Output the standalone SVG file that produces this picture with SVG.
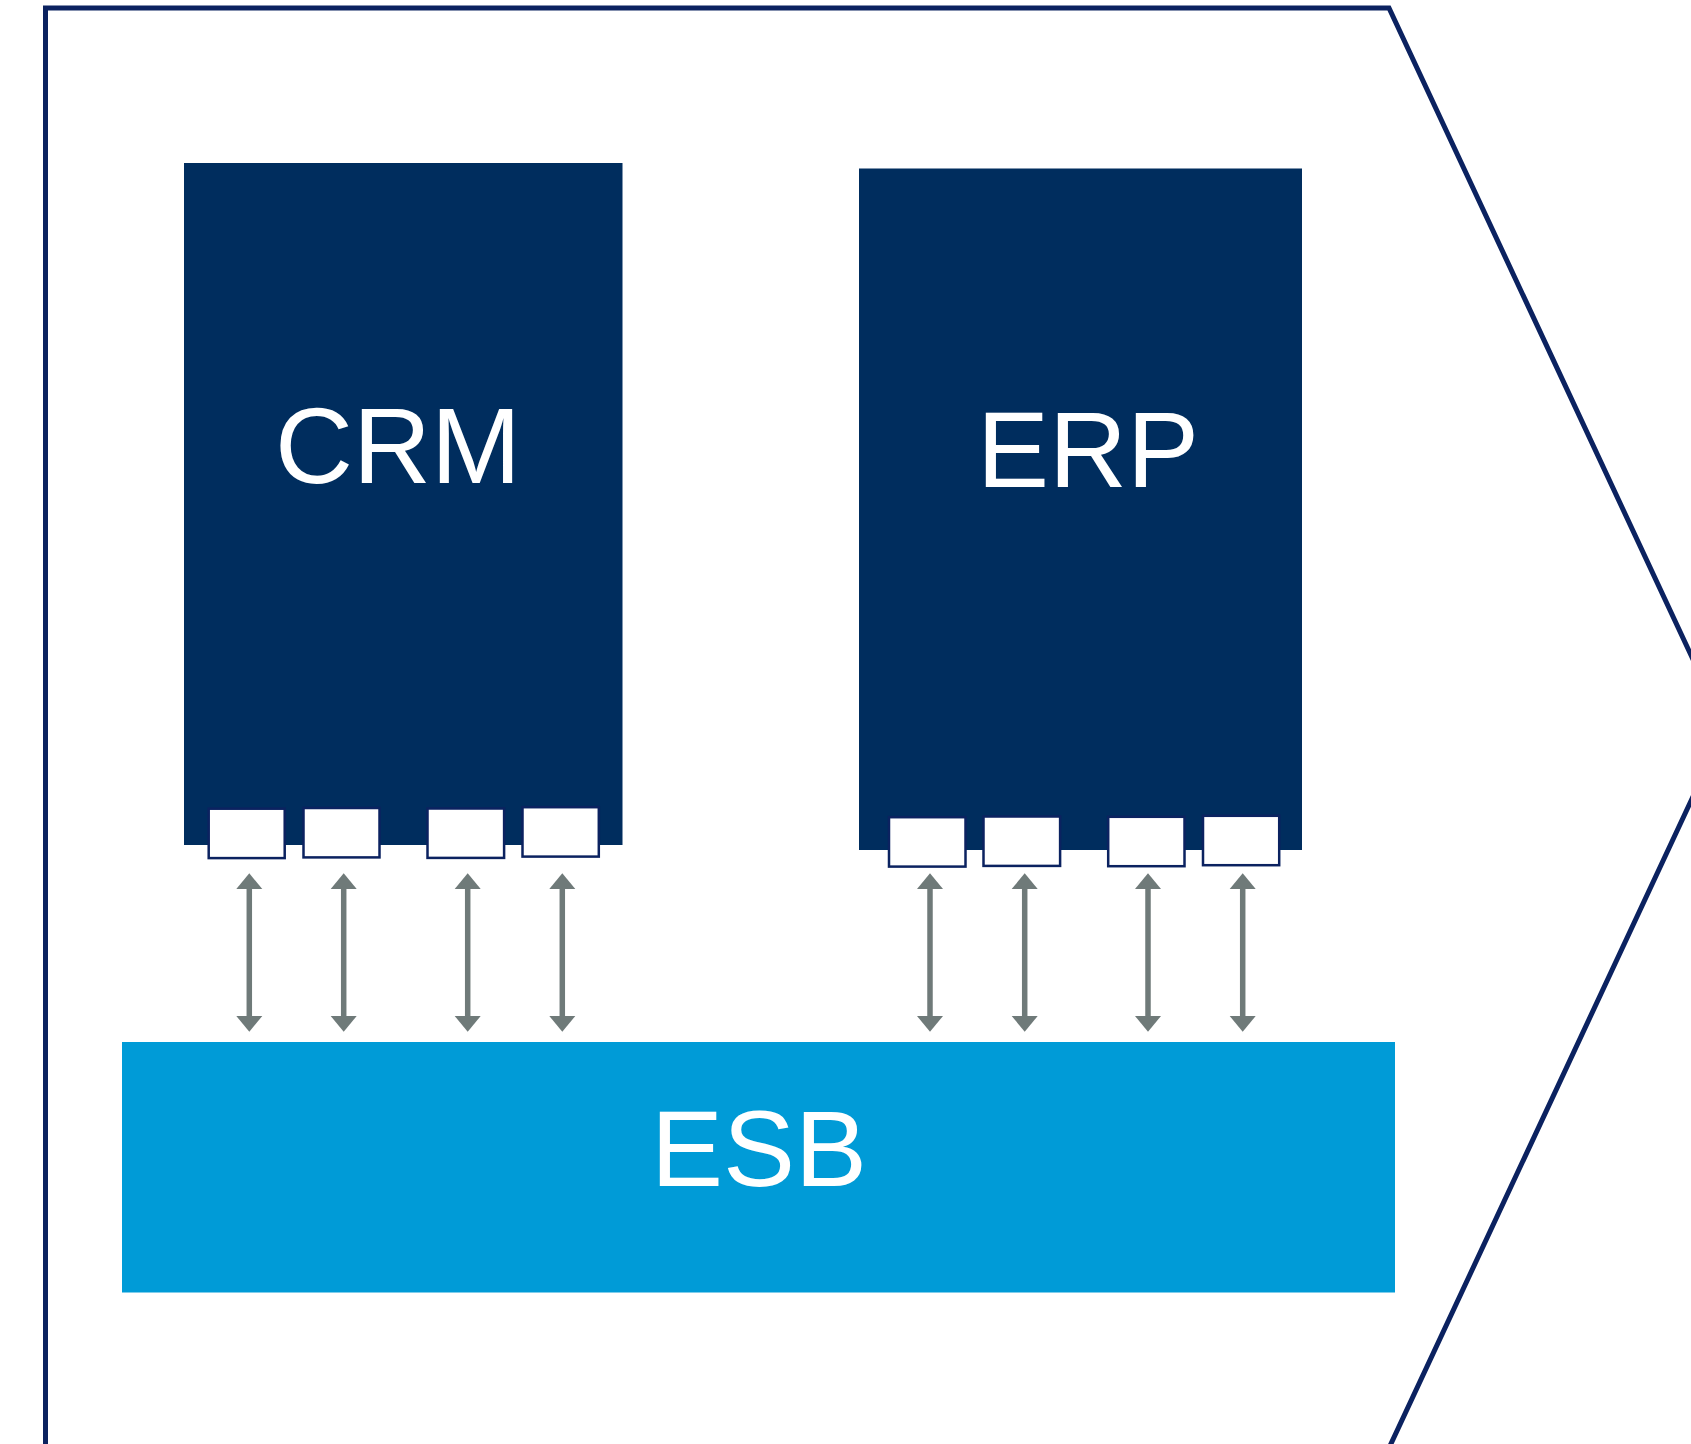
<svg xmlns="http://www.w3.org/2000/svg" width="1691" height="1444" viewBox="0 0 1691 1444">
  <style>
    .frame { fill: #ffffff; stroke: #0b2260; stroke-width: 5; }
    .app { fill: #002d5e; }
    .port { fill: #ffffff; stroke: #0b2260; stroke-width: 2.5; }
    .bus { fill: #009bd7; }
    .label { font-family: "Liberation Sans", Arial, sans-serif; font-size: 108px; fill: #ffffff; text-anchor: middle; }
    .link { stroke: #6f7a79; stroke-width: 5.5; fill: none; }
    .head { fill: #6f7a79; }
  </style>

  <!-- outer chevron frame -->
  <polygon class="frame" points="45.5,8 1389,8 1725,728 1389,1448 45.5,1448"/>

  <g id="crm">
    <rect class="app" x="184" y="163" width="438.5" height="682"/>
    <text class="label" x="398" y="483">CRM</text>
    <rect class="port" x="208.7" y="808.7" width="76" height="49.4"/>
    <rect class="port" x="303.5" y="808" width="76" height="49.4"/>
    <rect class="port" x="427.5" y="808.5" width="76.6" height="49.4"/>
    <rect class="port" x="522.5" y="807.2" width="76.3" height="49.4"/>
  </g>

  <g id="erp">
    <rect class="app" x="859" y="168.5" width="443" height="681.5"/>
    <text class="label" x="1088" y="486.5">ERP</text>
    <rect class="port" x="889" y="817.2" width="76.5" height="49.4"/>
    <rect class="port" x="983.5" y="816.5" width="76.6" height="49.4"/>
    <rect class="port" x="1108.2" y="816.8" width="76.3" height="49.4"/>
    <rect class="port" x="1203" y="815.8" width="76.2" height="49.4"/>
  </g>

  <g id="esb">
    <rect class="bus" x="122" y="1042" width="1273" height="250.5"/>
    <text class="label" x="759" y="1186">ESB</text>
  </g>

  <!-- two-way links between application ports and the bus -->
  <g id="connectors">
    <defs>
      <g id="twoway">
        <line class="link" x1="0" y1="886" x2="0" y2="1019"/>
        <polygon class="head" points="0,873.3 13,889 -13,889"/>
        <polygon class="head" points="0,1031.7 13,1016 -13,1016"/>
      </g>
    </defs>
    <use href="#twoway" x="249.3"/>
    <use href="#twoway" x="343.7"/>
    <use href="#twoway" x="467.7"/>
    <use href="#twoway" x="562.3"/>
    <use href="#twoway" x="930"/>
    <use href="#twoway" x="1024.7"/>
    <use href="#twoway" x="1148"/>
    <use href="#twoway" x="1242.7"/>
  </g>
</svg>
